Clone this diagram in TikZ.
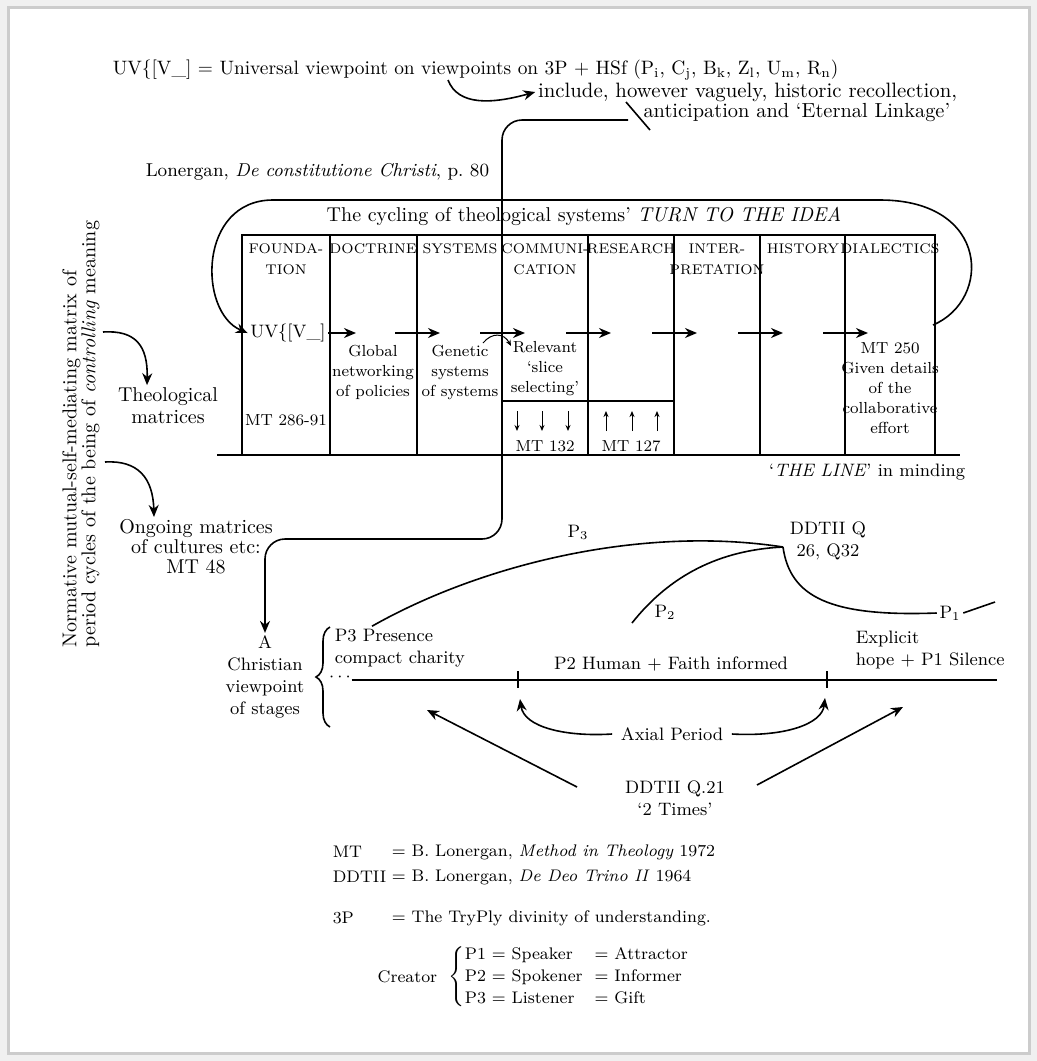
\documentclass[tikz,border=0pt]{standalone}
\usepackage{tikz}
\usetikzlibrary{positioning, arrows.meta, decorations.pathreplacing}
\tikzset{
  cyctop/.style   = {inner sep=1pt, font=\fontsize{10}{11}\selectfont},
  cyclow/.style   = {inner sep=1pt, align=center, font=\fontsize{9}{11}\selectfont},
  cyckey/.style   = {inner sep=1pt, anchor=west, font=\fontsize{8.4}{11}\selectfont},
  cychead/.style  = {inner sep=0pt, align=center, font=\fontsize{7}{10.5}\selectfont},
  cyccell/.style  = {inner sep=1pt, align=center, font=\fontsize{8}{10}\selectfont},
  cycarrow/.style = {-{Stealth[length=6pt,width=5pt]}},
  cyctiny/.style  = {-{Stealth[length=3pt,width=2.5pt]}, line width=0.5pt}
}
\begin{document}
\begin{tikzpicture}[x=0.5pt, y=-0.5pt, line width=0.8pt]
  \fill[gray!12] (0,0) rectangle (1037,1061);
  \useasboundingbox (0,0) rectangle (1037,1061);
  \draw[gray!40, fill=white, line width=1.5pt] (8,7) rectangle (1029,1053);

  % heading lines
  \node[cyctop, anchor=west, font=\fontsize{9.7}{11}\selectfont] (uvdef) at (110,70)
        {UV\{[V\_] = Universal viewpoint on viewpoints on 3P + HSf (P\textsubscript{i}, C\textsubscript{j}, B\textsubscript{k}, Z\textsubscript{l}, U\textsubscript{m}, R\textsubscript{n})};
  \node[cyctop, anchor=east, font=\fontsize{10.4}{11}\selectfont] (incl) at (960,92)
        {include, however vaguely, historic recollection,};
  \node[cyctop, anchor=east, font=\fontsize{10.2}{11}\selectfont] (antic) at (953,113)
        {anticipation and `Eternal Linkage'};
  \node[cyctop, anchor=west, font=\fontsize{9.3}{11}\selectfont] (lonergan) at (143,172)
        {Lonergan, \textit{De constitutione Christi}, p.~80};
  \coordinate (vp) at (448,80);
  \coordinate (lk) at (628,120);
  \draw[cycarrow] (vp) .. controls (458,106) and (492,104) .. (incl.west);
  \draw ([shift={(-2,-18)}]lk) -- ++(24,28);

  % the cycle box
  \node[cyctop] (cycling) at (584,216)
        {The cycling of theological systems' \textit{TURN TO THE IDEA}};
  \draw (242,455) -- (242,235) -- (935,235) -- (935,455);
  \foreach \cx in {330,417,502,588,674,760,845}
    \draw (\cx,235) -- (\cx,455);
  \draw (502,401) -- (674,401);
  \draw (217,455) -- (960,455);
  \foreach \cx/\hd [count=\i] in {286/{FOUNDA-\\TION}, 373/DOCTRINE, 460/SYSTEMS,
      545/{COMMUNI-\\CATION}, 631/RESEARCH, 717/{INTER-\\PRETATION}, 803/HISTORY,
      890/DIALECTICS}
    \node[cychead, anchor=north] (hd\i) at (\cx,243) {\hd};

  \node[cyclow] (uv) at (288,333) {UV\{[V\_]};
  \draw[cycarrow] (uv.east) -- (356,333);
  \foreach \bx in {417,502,588,674,760,845}
    \draw[cycarrow] (\bx-22,333) -- (\bx+23,333);
  \draw[cycarrow] (933,325) .. controls (992,300) and (990,200) .. (880,200)
        -- (273,200) .. controls (198,200) and (198,312) .. (uv.west);

  \node[cyccell] (glob) at (373,372) {Global\\networking\\of policies};
  \node[cyccell] (gen)  at (460,372) {Genetic\\systems\\of systems};
  \node[cyccell] (rel)  at (545,369) {Relevant\\`slice\\selecting'};
  \node[cyccell] (mtf)  at (286,420) {MT 286-91};
  \node[cyccell] (dial) at (890,388) {MT 250\\Given details\\of the\\collaborative\\effort};
  \node[cyccell] (mtc)  at (545,446) {MT 132};
  \node[cyccell] (mtr)  at (631,446) {MT 127};
  \foreach \ax in {517,542,568}
    \draw[cyctiny] (\ax,411) -- (\ax,431);
  \foreach \ax in {606,632,657}
    \draw[cyctiny] (\ax,431) -- (\ax,411);
  \coordinate (gs) at (483,343);
  \coordinate (rs) at (511,346);
  \draw[cyctiny] (gs) .. controls (492,332) and (504,333) .. (rs);
  \node[cyclow, anchor=east] (theline) at (968,472) {`\textit{THE LINE}' in minding};

  % left margin
  \node[cyctop, rotate=90, anchor=west, align=left, font=\fontsize{10}{9.5}\selectfont]
        (normative) at (81,650)
        {Normative mutual-self-mediating matrix of\\period cycles of the being of \textit{controlling} meaning};
  \node[cyctop, align=center] (theo) at (168,406) {Theological\\matrices};
  \node[cyctop, align=center, font=\fontsize{10}{10}\selectfont] (ongoing) at (196,547)
        {Ongoing matrices\\of cultures etc:\\MT 48};
  \coordinate (ml1) at (103,332);
  \coordinate (ml2) at (105,462);
  \draw[cycarrow] (ml1) .. controls (135,330) and (148,345) .. ([xshift=-10.5pt]theo.north);
  \draw[cycarrow] (ml2) .. controls (138,460) and (153,478) .. ([xshift=-21pt]ongoing.north);

  % stages
  \node[cyclow] (christ) at (265,677) {A\\Christian\\viewpoint\\of stages};
  \draw[cycarrow, rounded corners=10pt] (lk) -- (502,120) -- (502,539) -- (265,539) -- (christ.north);
  \draw[decorate, decoration={brace, amplitude=7pt}] (330,727) -- (330,627);
  \node[cyclow, anchor=west, align=left] (p3txt) at (332,648) {P3 Presence\\compact charity};
  \node[cyclow, inner sep=0pt, text height=1.5pt, text depth=0pt] (etc) at (340,680) {$\cdots$};
  \coordinate (lnend) at (997,679);
  \draw (etc.east) -- (etc.east -| lnend);
  \node[cyclow] (p2txt) at (671,664) {P2 Human + Faith informed};
  \node[cyclow, anchor=west, align=left] (p1txt) at (853,650) {Explicit\\hope + P1 Silence};
  \coordinate (ax1) at (518,679);
  \coordinate (ax2) at (827,679);
  \draw (ax1) ++(0,-8) -- ++(0,17);
  \draw (ax2) ++(0,-8) -- ++(0,17);

  \node[cyclow] (ddq) at (828,541) {DDTII Q\\26, Q32};
  \coordinate (pk) at (783,547);
  \draw ([xshift=20pt]p3txt.north west) .. controls (480,565) and (640,525) .. (pk);
  \node[cyclow] (p3lbl) at (578,532) {P\textsubscript{3}};
  \coordinate (p2s) at (632,623);
  \draw (p2s) .. controls (670,575) and (720,550) .. (pk);
  \node[cyclow] (p2lbl) at (665,612) {P\textsubscript{2}};
  \node[cyclow] (p1lbl) at (950,613) {P\textsubscript{1}};
  \coordinate (p1e) at (995,602);
  \draw (pk) .. controls (790,597) and (830,617) .. (p1lbl.west);
  \draw (p1lbl.east) -- (p1e);

  \node[cyclow] (axial) at (672,734) {Axial Period};
  \coordinate (axt1) at (520,699);
  \coordinate (axt2) at (825,698);
  \draw[cycarrow] ([xshift=-3pt]axial.west) .. controls (565,737) and (524,727) .. (axt1);
  \draw[cycarrow] ([xshift=3pt]axial.east) .. controls (785,737) and (822,724) .. (axt2);

  \node[cyclow] (q21) at (675,798) {DDTII Q.21\\`2 Times'};
  \coordinate (q21l) at (577,787);
  \coordinate (tipl) at (427,710);
  \coordinate (q21r) at (757,785);
  \coordinate (tipr) at (903,707);
  \draw[cycarrow] (q21l) -- (tipl);
  \draw[cycarrow] (q21r) -- (tipr);

  % key
  \node[cyckey] (kmt)  at (330,852) {MT};
  \node[cyckey] (kmtv) at (389,852) {= B. Lonergan, \textit{Method in Theology} 1972};
  \node[cyckey] (kdd)  at (330,877) {DDTII};
  \node[cyckey] (kddv) at (389,877) {= B. Lonergan, \textit{De Deo Trino II} 1964};
  \node[cyckey] (k3p)  at (330,918) {3P};
  \node[cyckey] (k3pv) at (389,918) {= The TryPly divinity of understanding.};
  \node[cyckey, anchor=east] (kcr) at (440,977) {Creator};
  \node[cyckey] (kset) at (446,977)
        {$\left\{\begin{tabular}{@{}l@{\hspace{6pt}}l@{}}P1 = Speaker & = Attractor\\
         P2 = Spokener & = Informer\\ P3 = Listener & = Gift\end{tabular}\right.$};
\end{tikzpicture}
\end{document}
